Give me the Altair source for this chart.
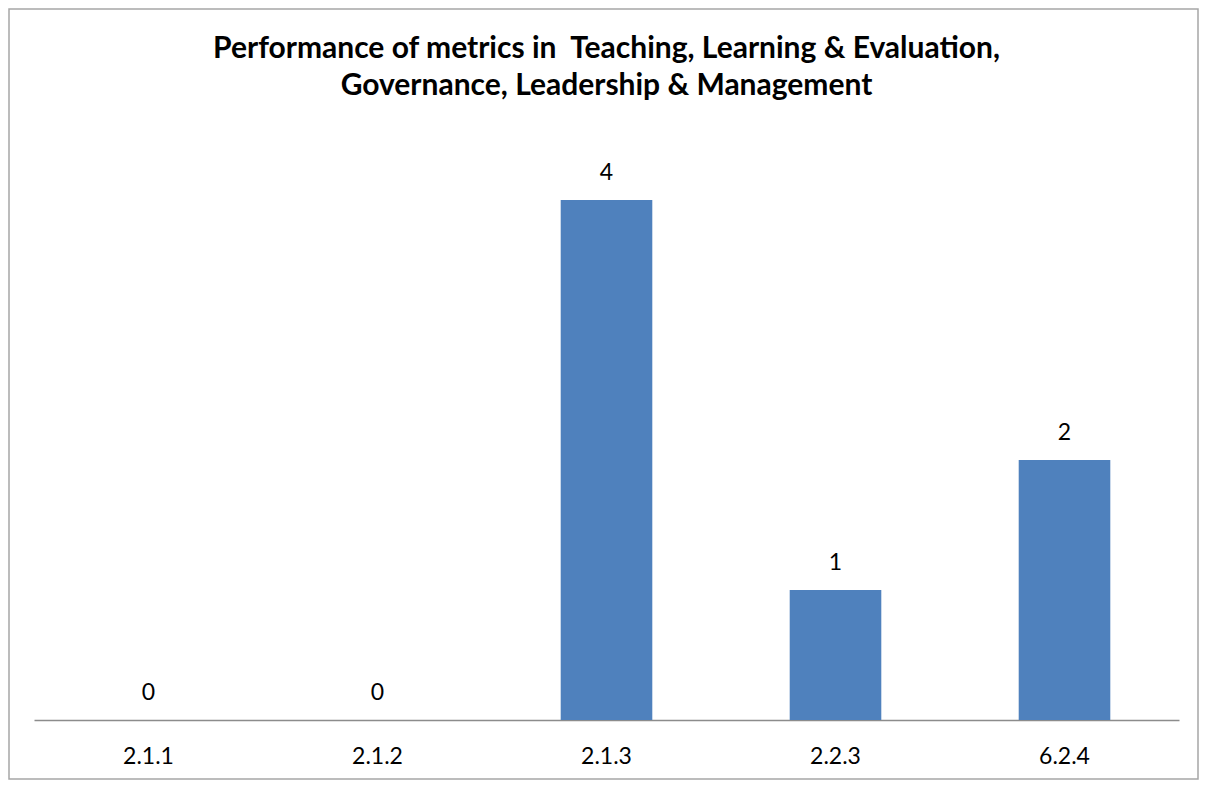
import altair as alt
import pandas as pd

categories = ["2.1.1", "2.1.2", "2.1.3", "2.2.3", "6.2.4"]
values = [0, 0, 4, 1, 2]
title_lines = ["Performance of metrics in \u00a0Teaching, Learning & Evaluation,",
               "Governance, Leadership & Management"]

df = pd.DataFrame({"metric": categories, "value": values})

W, H = 1145, 585
PAD_L, PAD_T, PAD_R, PAD_B = 26, 127, 20, 60

x = alt.X("metric:N", sort=categories, title=None,
          scale=alt.Scale(paddingInner=0.6, paddingOuter=0.3),
          axis=alt.Axis(labelAngle=0, ticks=False, domainColor="#8c8c8c", domainWidth=1.5,
                        labelFontSize=23, labelFont="Lato", labelColor="#000000",
                        labelPadding=25))
y = alt.Y("value:Q", title=None, scale=alt.Scale(domain=[0, 4.5]), axis=None)

bars = alt.Chart(df).mark_bar(color="#4F81BD").encode(x=x, y=y)
labels = alt.Chart(df).mark_text(baseline="middle", dy=-27, fontSize=23, font="Lato",
                                 color="#000000").encode(x=x, y=y, text="value:Q")

one = df.head(1)
border = alt.Chart(one).mark_rect(fill=None, stroke="#a6a6a6", strokeWidth=1.5).encode(
    x=alt.value(-PAD_L + 1), x2=alt.value(W + PAD_R - 1),
    y=alt.value(-PAD_T + 1), y2=alt.value(H + PAD_B - 1))

t1 = alt.Chart(one).mark_text(font="Lato", fontSize=30, fontWeight="bold", color="#000000",
                              baseline="middle", align="center").encode(
    x=alt.value(W / 2), y=alt.value(-86), text=alt.value(title_lines[0]))
t2 = alt.Chart(one).mark_text(font="Lato", fontSize=30, fontWeight="bold", color="#000000",
                              baseline="middle", align="center").encode(
    x=alt.value(W / 2), y=alt.value(-49), text=alt.value(title_lines[1]))

chart = alt.layer(border, t1, t2, bars, labels).properties(
    width=W, height=H,
    autosize=alt.AutoSizeParams(type="none"),
    padding={"left": PAD_L, "top": PAD_T, "right": PAD_R, "bottom": PAD_B},
    background="white",
).configure_view(stroke=None)

chart.save("out.html", embed_options={"renderer": "svg", "actions": False})
